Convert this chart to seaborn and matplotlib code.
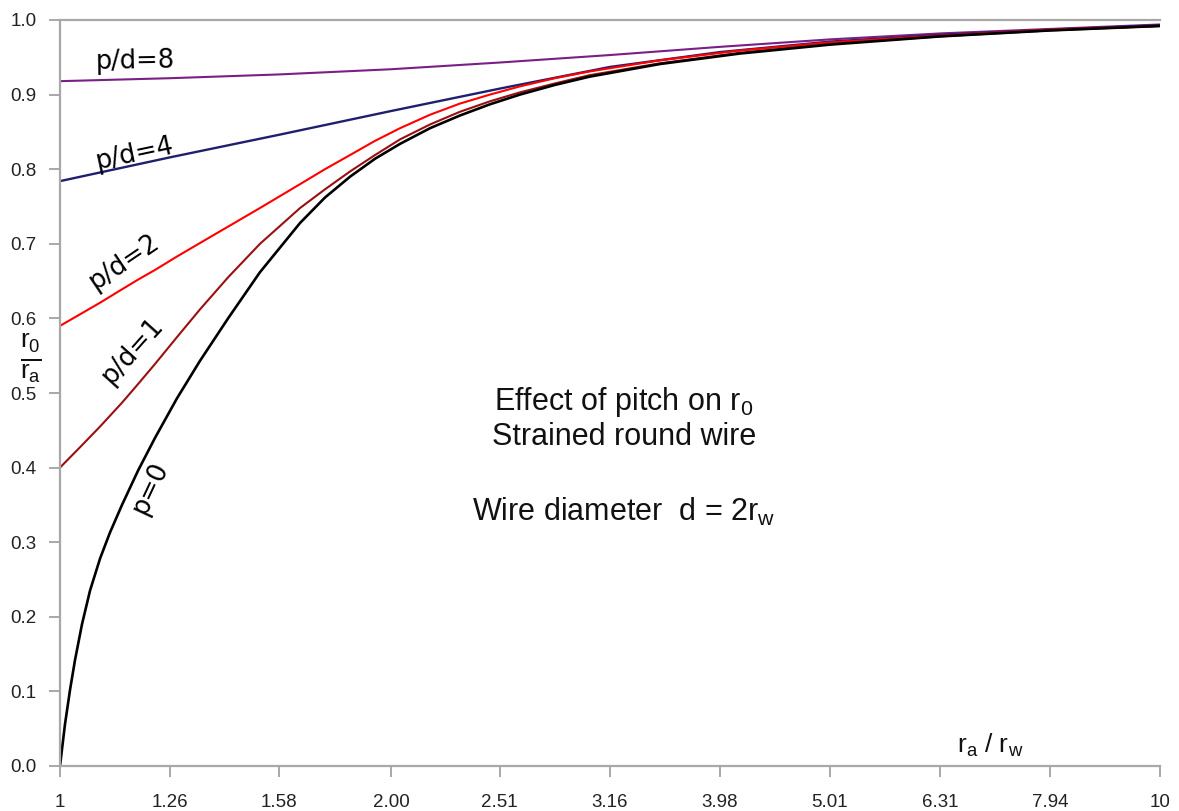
import numpy as np
import pandas as pd
import matplotlib
matplotlib.use("Agg")
import matplotlib.pyplot as plt
import seaborn as sns

# ---- data ----
x_ticks = [1, 1.26, 1.58, 2.00, 2.51, 3.16, 3.98, 5.01, 6.31, 7.94, 10]
x_tick_labels = ["1", "1.26", "1.58", "2.00", "2.51", "3.16", "3.98", "5.01", "6.31", "7.94", "10"]
y_ticks = [0.0, 0.1, 0.2, 0.3, 0.4, 0.5, 0.6, 0.7, 0.8, 0.9, 1.0]
y_tick_labels = ["0.0", "0.1", "0.2", "0.3", "0.4", "0.5", "0.6", "0.7", "0.8", "0.9", "1.0"]

x_p0 = [1.000, 1.0105, 1.0212, 1.0319, 1.0471, 1.0648, 1.0874, 1.1103, 1.1386, 1.1775, 1.2202,
        1.2776, 1.3403, 1.4216, 1.5199, 1.6530, 1.7413, 1.8353, 1.9337, 2.0378, 2.1697, 2.3101,
        2.4596, 2.6186, 2.8184, 3.0290, 3.5112, 4.1478, 5.0119, 6.3096, 7.9433, 10.0]
y_p0 = [0.000, 0.056, 0.102, 0.142, 0.190, 0.235, 0.278, 0.313, 0.350, 0.396, 0.440,
        0.493, 0.543, 0.600, 0.662, 0.728, 0.762, 0.790, 0.814, 0.834, 0.855, 0.872,
        0.887, 0.900, 0.913, 0.924, 0.941, 0.955, 0.967, 0.978, 0.986, 0.992]

x_pd1 = [1.000, 1.0471, 1.0874, 1.1386, 1.1775, 1.2202, 1.2776, 1.3403, 1.4216, 1.5199, 1.6530,
         1.7413, 1.8353, 1.9337, 2.0378, 2.1697, 2.3101, 2.4596, 2.6186, 2.8184, 3.0290, 3.5112,
         4.1478, 5.0119, 6.3096, 7.9433, 10.0]
y_pd1 = [0.400, 0.430, 0.455, 0.487, 0.512, 0.539, 0.575, 0.612, 0.655, 0.700, 0.748,
         0.773, 0.797, 0.819, 0.840, 0.860, 0.877, 0.891, 0.903, 0.915, 0.926, 0.942,
         0.956, 0.968, 0.978, 0.986, 0.992]

x_pd2 = [1.000, 1.0471, 1.0874, 1.1386, 1.1775, 1.2202, 1.2776, 1.3403, 1.4216, 1.5199, 1.6530,
         1.7413, 1.8353, 1.9337, 2.0378, 2.1697, 2.3101, 2.4596, 2.6186, 2.8184, 3.0290, 3.5112,
         4.1478, 5.0119, 6.3096, 7.9433, 10.0]
y_pd2 = [0.590, 0.607, 0.621, 0.639, 0.652, 0.665, 0.683, 0.701, 0.723, 0.748, 0.780,
         0.800, 0.819, 0.838, 0.855, 0.873, 0.888, 0.900, 0.911, 0.922, 0.931, 0.946,
         0.959, 0.970, 0.979, 0.987, 0.992]

x_pd4 = [1.00, 1.26, 1.58, 2.00, 2.51, 3.16, 3.98, 5.01, 6.31, 7.94, 10]
y_pd4 = [0.784, 0.816, 0.846, 0.878, 0.908, 0.937, 0.957, 0.971, 0.980, 0.987, 0.993]

x_pd8 = [1.00, 1.26, 1.58, 2.00, 2.51, 3.16, 3.98, 5.01, 6.31, 7.94, 10]
y_pd8 = [0.918, 0.922, 0.927, 0.934, 0.943, 0.953, 0.964, 0.974, 0.982, 0.988, 0.994]

series_names = ["p=0", "p/d=1", "p/d=2", "p/d=4", "p/d=8"]
series_colors = ["#000000", "#9a1010", "#ff0000", "#1f1f6e", "#7a1f86"]
series_widths = [1.9, 1.5, 1.5, 1.7, 1.5]

# label positions (pixels) and rotations
label_pos = [(150, 488), (133, 351), (124, 262), (135, 154), (135, 61)]
label_rot = [65, 48, 34, 12, 1]

# ---- build long table ----
frames = []
for name, xs, ys in zip(series_names,
                        [x_p0, x_pd1, x_pd2, x_pd4, x_pd8],
                        [y_p0, y_pd1, y_pd2, y_pd4, y_pd8]):
    frames.append(pd.DataFrame({"x": xs, "y": ys, "series": name}))
df = pd.concat(frames, ignore_index=True)

sns.set_style("white")
plt.rcParams["font.family"] = ["Liberation Sans", "DejaVu Sans"]
plt.rcParams["mathtext.fontset"] = "custom"
plt.rcParams["mathtext.rm"] = "Liberation Sans"
plt.rcParams["mathtext.it"] = "Liberation Sans"
plt.rcParams["mathtext.bf"] = "Liberation Sans"

W, H = 1179, 811
fig = plt.figure(figsize=(W / 100, H / 100), dpi=100)
x0, x1, ytop, ybot = 60, 1160, 20, 766
ax = fig.add_axes([x0 / W, (H - ybot) / H, (x1 - x0) / W, (ybot - ytop) / H])

for name, c, lw in zip(series_names[::-1], series_colors[::-1], series_widths[::-1]):
    sub = df[df["series"] == name]
    sns.lineplot(data=sub, x="x", y="y", ax=ax, color=c, linewidth=lw,
                 sort=False, estimator=None, legend=False)

ax.set_xscale("log")
ax.set_xlim(1, 10)
ax.set_ylim(0, 1.0)
ax.set_xticks(x_ticks)
ax.set_xticklabels(x_tick_labels)
ax.xaxis.set_minor_locator(matplotlib.ticker.NullLocator())
ax.set_yticks(y_ticks)
ax.set_yticklabels(y_tick_labels)
ax.set_xlabel("")
ax.set_ylabel("")

spine_c = "#a8a8a8"
for s in ["left", "bottom", "top"]:
    ax.spines[s].set_visible(True)
    ax.spines[s].set_color(spine_c)
    ax.spines[s].set_linewidth(1.6)
ax.spines["right"].set_visible(False)
ax.tick_params(axis="both", which="major", direction="out", length=8, width=1.4,
               color=spine_c, labelcolor="#222222", labelsize=13.5, bottom=True, left=True)
ax.tick_params(axis="x", pad=12)
ax.tick_params(axis="y", pad=9)

def fx(px):
    return px / W

def fy(py):
    return 1 - py / H

# curve labels
for name, (px, py), rot in zip(series_names, label_pos, label_rot):
    fig.text(fx(px), fy(py), name, fontsize=18.5, family="DejaVu Sans", color="black",
             rotation=rot, ha="center", va="center", rotation_mode="anchor")

# annotation block
fig.text(fx(624), fy(402), r"Effect of pitch on r$_0$", fontsize=22, ha="center", va="center", color="#111111")
fig.text(fx(624), fy(437), "Strained round wire", fontsize=22, ha="center", va="center", color="#111111")
fig.text(fx(624), fy(512), r"Wire diameter  d = 2r$_w$", fontsize=22, ha="center", va="center", color="#111111")

# axis labels
fig.text(fx(990), fy(745), r"r$_a$ / r$_w$", fontsize=19, ha="center", va="center", color="#111111")
fig.text(fx(31), fy(358), r"$\frac{r_0}{r_a}$", fontsize=27, ha="center", va="center", color="#111111")

fig.savefig("out.png", dpi=100)
